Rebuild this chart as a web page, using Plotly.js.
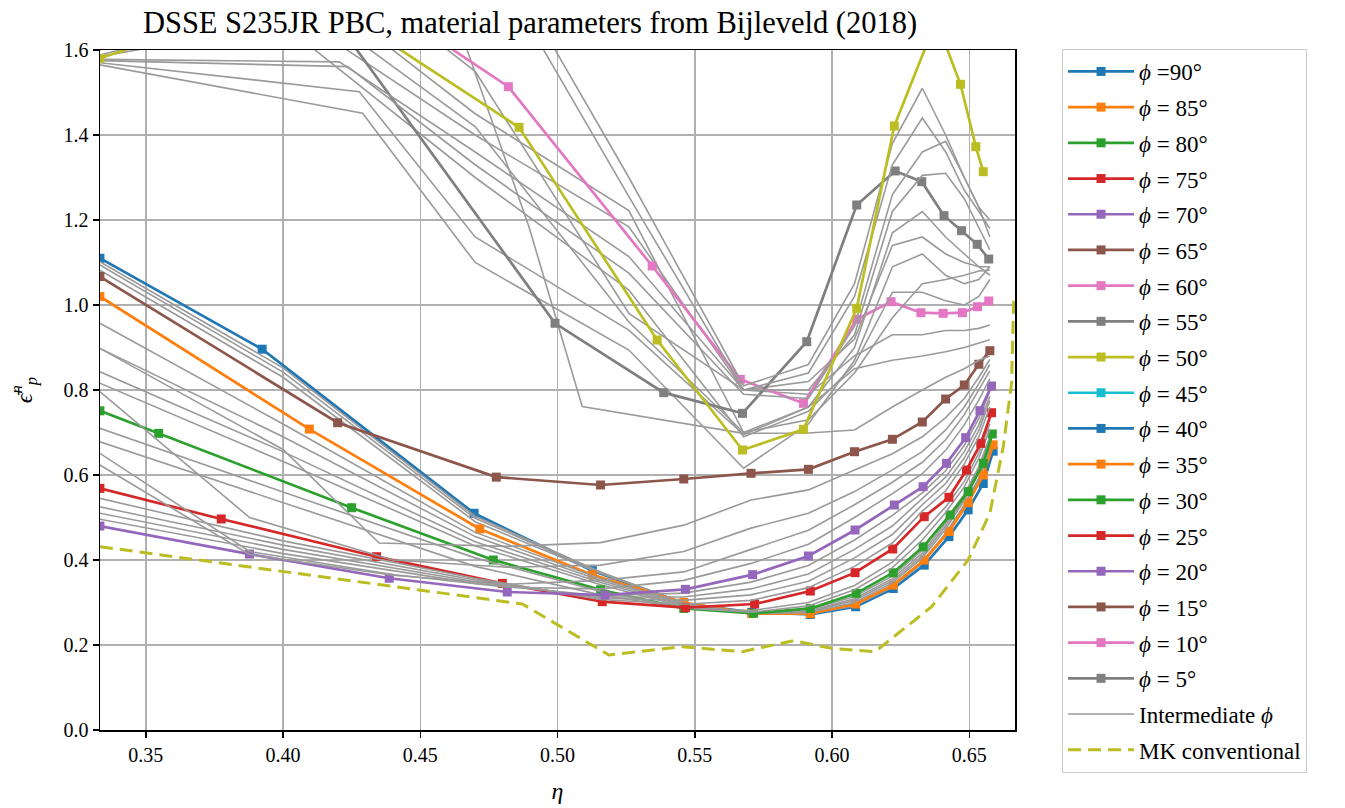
<!DOCTYPE html>
<html><head><meta charset="utf-8">
<script src="https://cdn.plot.ly/plotly-3.0.1.min.js"></script>
<style>body{margin:0;background:#fff}</style>
</head><body>
<div id="chart" style="width:1345px;height:808px"></div>
<script>
// ---------- named phi curves ----------
const phi90_x = [0.3333, 0.3924, 0.4696, 0.5127, 0.5460, 0.5708, 0.5921, 0.6086, 0.6223, 0.6336, 0.6426, 0.6496, 0.6551, 0.6587];
const phi90_y = [1.110, 0.896, 0.510, 0.375, 0.298, 0.277, 0.272, 0.290, 0.333, 0.388, 0.455, 0.518, 0.580, 0.656];
const phi85_x = [0.3333, 0.4096, 0.4717, 0.5127, 0.5460, 0.5708, 0.5921, 0.6086, 0.6223, 0.6336, 0.6426, 0.6496, 0.6551, 0.6587];
const phi85_y = [1.020, 0.708, 0.473, 0.365, 0.300, 0.274, 0.274, 0.2965, 0.341, 0.400, 0.467, 0.535, 0.600, 0.671];
const phi80_x = [0.3333, 0.3547, 0.4250, 0.4766, 0.5157, 0.5460, 0.5714, 0.5921, 0.6088, 0.6223, 0.6332, 0.6430, 0.6496, 0.6551, 0.6584];
const phi80_y = [0.751, 0.698, 0.523, 0.400, 0.330, 0.286, 0.2745, 0.286, 0.3216, 0.370, 0.431, 0.506, 0.561, 0.6275, 0.6965];
const phi75_x = [0.3333, 0.3775, 0.4341, 0.4799, 0.5163, 0.5466, 0.5718, 0.5921, 0.6084, 0.6221, 0.6336, 0.6426, 0.6490, 0.6542, 0.6581];
const phi75_y = [0.5686, 0.4965, 0.4078, 0.345, 0.302, 0.2878, 0.2965, 0.327, 0.3702, 0.4259, 0.502, 0.5475, 0.6118, 0.6745, 0.7466];
const phi70_x = [0.3333, 0.3878, 0.4387, 0.4817, 0.5173, 0.5466, 0.5711, 0.5914, 0.6084, 0.6227, 0.6332, 0.6417, 0.6487, 0.6539, 0.6581];
const phi70_y = [0.480, 0.414, 0.357, 0.3247, 0.3176, 0.331, 0.3655, 0.4094, 0.4706, 0.5294, 0.5725, 0.6275, 0.6878, 0.7513, 0.8094];
const phi65_x = [0.3333, 0.4199, 0.4777, 0.5157, 0.5460, 0.5705, 0.5914, 0.6082, 0.6220, 0.6329, 0.6414, 0.6482, 0.6535, 0.6575];
const phi65_y = [1.067, 0.723, 0.595, 0.5765, 0.5906, 0.604, 0.6134, 0.6548, 0.684, 0.7247, 0.7788, 0.8118, 0.8605, 0.8925];
const phi60_x = [0.3333, 0.4300, 0.4821, 0.5345, 0.5666, 0.5896, 0.6090, 0.6215, 0.6324, 0.6405, 0.6475, 0.6530, 0.6571];
const phi60_y = [2.10, 1.738, 1.5137, 1.0918, 0.8251, 0.7686, 0.9663, 1.0078, 0.9819, 0.9804, 0.9819, 0.996, 1.0094];
const phi55_x = [0.3333, 0.4000, 0.4991, 0.5387, 0.5674, 0.5908, 0.6090, 0.6230, 0.6327, 0.6408, 0.6472, 0.6529, 0.6571];
const phi55_y = [2.00, 1.84, 0.957, 0.7937, 0.7451, 0.9137, 1.2353, 1.3153, 1.2902, 1.2102, 1.1749, 1.1428, 1.1082];
const phi50_x = [0.3333, 0.4090, 0.4860, 0.5363, 0.5674, 0.5896, 0.6090, 0.6227, 0.6380, 0.6468, 0.6524, 0.6551];
const phi50_y = [1.5804, 1.743, 1.418, 0.9176, 0.6588, 0.7075, 0.9922, 1.4212, 1.67, 1.5193, 1.3725, 1.3137];
// phi = 45 ... 5 lie outside the plotted window (no visible points)
const phi_off_x = [null];
const phi_off_y = [null];

// ---------- intermediate phi curves ----------
const gxLow = [0.3333, 0.40, 0.47, 0.5157, 0.5460, 0.5705, 0.5914, 0.6082, 0.6220, 0.6329, 0.6414, 0.6482, 0.6535, 0.6575];
const gA1 = [1.102, 0.852, 0.503, 0.372, 0.298, 0.276, 0.273, 0.292, 0.336, 0.392, 0.459, 0.524, 0.586, 0.660];
const gA2 = [1.094, 0.842, 0.498, 0.370, 0.299, 0.275, 0.274, 0.294, 0.337, 0.394, 0.461, 0.527, 0.590, 0.663];
const gA3 = [1.082, 0.830, 0.490, 0.368, 0.300, 0.274, 0.274, 0.295, 0.339, 0.396, 0.463, 0.530, 0.593, 0.666];
const gB1 = [0.957, 0.720, 0.465, 0.356, 0.298, 0.274, 0.276, 0.300, 0.346, 0.405, 0.473, 0.540, 0.605, 0.676];
const gB2 = [0.898, 0.690, 0.455, 0.352, 0.296, 0.274, 0.278, 0.305, 0.351, 0.410, 0.480, 0.545, 0.610, 0.680];
const gB3 = [0.843, 0.655, 0.443, 0.347, 0.293, 0.274, 0.280, 0.309, 0.356, 0.416, 0.487, 0.550, 0.615, 0.685];
const gB4 = [0.816, 0.632, 0.433, 0.342, 0.290, 0.274, 0.283, 0.314, 0.362, 0.423, 0.495, 0.555, 0.620, 0.690];
const gC1 = [0.710, 0.560, 0.405, 0.326, 0.287, 0.277, 0.292, 0.330, 0.382, 0.447, 0.512, 0.572, 0.640, 0.708];
const gC2 = [0.678, 0.535, 0.385, 0.318, 0.287, 0.281, 0.300, 0.340, 0.395, 0.465, 0.525, 0.585, 0.652, 0.720];
const gD1 = [0.545, 0.445, 0.357, 0.307, 0.296, 0.305, 0.335, 0.385, 0.440, 0.515, 0.563, 0.626, 0.690, 0.760];
const gD2 = [0.525, 0.435, 0.353, 0.310, 0.305, 0.318, 0.350, 0.405, 0.460, 0.530, 0.580, 0.640, 0.705, 0.775];
const gD3 = [0.510, 0.425, 0.349, 0.313, 0.313, 0.332, 0.367, 0.425, 0.480, 0.545, 0.595, 0.655, 0.718, 0.785];
const gD4 = [0.496, 0.415, 0.345, 0.316, 0.322, 0.348, 0.387, 0.447, 0.505, 0.558, 0.610, 0.670, 0.733, 0.797];
const gxE = [0.3333, 0.3878, 0.44, 0.4817, 0.5157, 0.5460, 0.5705, 0.5914, 0.6082, 0.6220, 0.6329, 0.6414, 0.6482, 0.6535, 0.6575];
const gE1 = [0.651, 0.420, 0.366, 0.336, 0.332, 0.352, 0.392, 0.437, 0.500, 0.556, 0.603, 0.658, 0.718, 0.777, 0.826];
const gE2 = [0.6235, 0.413, 0.364, 0.343, 0.352, 0.372, 0.425, 0.470, 0.530, 0.583, 0.630, 0.683, 0.742, 0.800, 0.845];
const gE3 = [0.796, 0.500, 0.400, 0.383, 0.388, 0.420, 0.475, 0.510, 0.561, 0.612, 0.655, 0.706, 0.760, 0.815, 0.860];
const gxE4 = [0.3333, 0.40, 0.435, 0.4817, 0.5157, 0.5460, 0.5705, 0.5914, 0.6082, 0.6220, 0.6329, 0.6414, 0.6482, 0.6535, 0.6575];
const gE4 = [0.898, 0.660, 0.440, 0.432, 0.441, 0.482, 0.541, 0.565, 0.612, 0.650, 0.690, 0.735, 0.780, 0.830, 0.872];
const gxT1 = [0.3333, 0.44, 0.4896, 0.509, 0.5678, 0.5914, 0.6082, 0.6220, 0.6329, 0.6414, 0.6482, 0.6535, 0.6575];
const gT1 = [1.70, 2.10, 1.184, 0.761, 0.698, 0.699, 0.706, 0.760, 0.800, 0.830, 0.850, 0.870, 0.880];
const gxU = [0.3333, 0.40, 0.47, 0.526, 0.5678, 0.5914, 0.6082, 0.6220, 0.6329, 0.6414, 0.6482, 0.6535, 0.6575];
const gU5 = [1.585, 1.66, 1.30, 1.035, 0.69, 0.75, 0.86, 1.03, 1.03, 1.01, 1.00, 1.02, 1.06];
const gU6 = [1.588, 1.70, 1.40, 1.184, 0.80, 0.79, 0.88, 0.93, 0.93, 0.94, 0.94, 0.945, 0.953];
const gU7 = [1.62, 1.80, 1.45, 1.222, 0.70, 0.76, 0.85, 0.87, 0.88, 0.89, 0.90, 0.91, 0.918];
const gU13 = [1.60, 1.75, 1.42, 0.96, 0.70, 0.73, 0.84, 0.97, 1.05, 1.06, 1.07, 1.08, 1.082];
const gU14 = [1.63, 1.90, 1.55, 0.98, 0.80, 0.82, 0.92, 1.14, 1.16, 1.12, 1.10, 1.09, 1.09];
const gxU1 = [0.3333, 0.4205, 0.47, 0.526, 0.5678, 0.5914, 0.6082, 0.6220, 0.6329, 0.6414, 0.6482, 0.6535, 0.6575];
const gU1 = [1.578, 1.572, 1.36, 1.114, 0.80, 0.80, 0.93, 1.22, 1.305, 1.31, 1.25, 1.18, 1.13];
const gxU2 = [0.3333, 0.4236, 0.47, 0.526, 0.5678, 0.5914, 0.6082, 0.6220, 0.6329, 0.6414, 0.6482, 0.6535, 0.6575];
const gU2 = [1.575, 1.561, 1.33, 1.075, 0.79, 0.78, 0.95, 1.26, 1.36, 1.385, 1.30, 1.23, 1.16];
const gxU3 = [0.3333, 0.4278, 0.47, 0.526, 0.5678, 0.5914, 0.6082, 0.6220, 0.6329, 0.6414, 0.6482, 0.6535, 0.6575];
const gU3 = [1.570, 1.502, 1.16, 0.941, 0.695, 0.76, 0.90, 1.17, 1.22, 1.16, 1.12, 1.09, 1.07];
const gxU4 = [0.3333, 0.4290, 0.47, 0.526, 0.5678, 0.5914, 0.6082, 0.6220, 0.6329, 0.6414, 0.6482, 0.6535, 0.6575];
const gU4 = [1.565, 1.451, 1.10, 0.894, 0.616, 0.72, 0.87, 1.09, 1.12, 1.07, 1.05, 1.06, 1.09];
const gxU11 = [0.3333, 0.45, 0.526, 0.5678, 0.5914, 0.6082, 0.6220, 0.6329, 0.6414, 0.6482, 0.6535, 0.6575];
const gU11 = [1.75, 2.10, 1.255, 0.80, 0.84, 1.02, 1.33, 1.44, 1.36, 1.27, 1.22, 1.18];
const gU12 = [1.78, 2.15, 1.30, 0.81, 0.86, 1.05, 1.38, 1.51, 1.40, 1.30, 1.23, 1.20];

// ---------- MK conventional ----------
const mk_x = [0.3333, 0.40, 0.45, 0.4872, 0.5187, 0.5454, 0.5672, 0.5860, 0.5999, 0.6157, 0.6363, 0.6496, 0.6575, 0.6624, 0.6654, 0.6662];
const mk_y = [0.4314, 0.3725, 0.3278, 0.2965, 0.1765, 0.196, 0.1843, 0.2102, 0.1922, 0.1843, 0.2902, 0.400, 0.510, 0.6667, 0.8157, 1.010];

// ---------- labels / ticks ----------
const phiLabels = ['<i>ϕ</i> =90°','<i>ϕ</i> = 85°','<i>ϕ</i> = 80°','<i>ϕ</i> = 75°','<i>ϕ</i> = 70°','<i>ϕ</i> = 65°','<i>ϕ</i> = 60°','<i>ϕ</i> = 55°','<i>ϕ</i> = 50°','<i>ϕ</i> = 45°','<i>ϕ</i> = 40°','<i>ϕ</i> = 35°','<i>ϕ</i> = 30°','<i>ϕ</i> = 25°','<i>ϕ</i> = 20°','<i>ϕ</i> = 15°','<i>ϕ</i> = 10°','<i>ϕ</i> = 5°'];
const tab10 = ['#1f77b4','#ff7f0e','#2ca02c','#d62728','#9467bd','#8c564b','#e377c2','#7f7f7f','#bcbd22','#17becf'];
const xTicks = [0.35, 0.40, 0.45, 0.50, 0.55, 0.60, 0.65];
const yTicks = [0.0, 0.2, 0.4, 0.6, 0.8, 1.0, 1.2, 1.4, 1.6];

const GREY = '#9a9a9a';
function named(i, x, y) {
  return {type:'scatter', mode:'lines+markers', x:x, y:y, name:phiLabels[i],
    line:{color:tab10[i % 10], width:2.7}, marker:{symbol:'square', size:9, color:tab10[i % 10]},
    legendrank:i+1, legendgroup:'g'+i, hoverinfo:'skip', cliponaxis:true};
}
let greyShown = false;
function grey(x, y) {
  const t = {type:'scatter', mode:'lines', x:x, y:y, name:'Intermediate <i>ϕ</i>',
    line:{color:GREY, width:1.6}, legendrank:19, legendgroup:'gI',
    showlegend:!greyShown, hoverinfo:'skip'};
  greyShown = true;
  return t;
}
const traces = [];
traces.push(named(0, phi90_x, phi90_y));
[gA1, gA2, gA3].forEach(g => traces.push(grey(gxLow, g)));
traces.push(named(1, phi85_x, phi85_y));
[gB1, gB2, gB3, gB4].forEach(g => traces.push(grey(gxLow, g)));
traces.push(named(2, phi80_x, phi80_y));
[gC1, gC2].forEach(g => traces.push(grey(gxLow, g)));
traces.push(named(3, phi75_x, phi75_y));
[gD1, gD2, gD3, gD4].forEach(g => traces.push(grey(gxLow, g)));
traces.push(named(4, phi70_x, phi70_y));
[gE1, gE2, gE3].forEach(g => traces.push(grey(gxE, g)));
traces.push(grey(gxE4, gE4));
traces.push(named(5, phi65_x, phi65_y));
traces.push(grey(gxT1, gT1));
[gU6, gU7].forEach(g => traces.push(grey(gxU, g)));
traces.push(named(6, phi60_x, phi60_y));
traces.push(grey(gxU3, gU3));
traces.push(grey(gxU4, gU4));
[gU5, gU13, gU14].forEach(g => traces.push(grey(gxU, g)));
traces.push(named(7, phi55_x, phi55_y));
traces.push(grey(gxU1, gU1));
traces.push(grey(gxU2, gU2));
traces.push(grey(gxU11, gU11));
traces.push(grey(gxU11, gU12));
traces.push(named(8, phi50_x, phi50_y));
for (let i = 9; i < 18; i++) traces.push(named(i, phi_off_x, phi_off_y));
traces.push({type:'scatter', mode:'lines', x:mk_x, y:mk_y, name:'MK conventional',
  line:{color:'#bcbd22', width:3, dash:'13px,7px'}, legendrank:20, legendgroup:'gMK', hoverinfo:'skip'});

const FONT = 'Liberation Serif, DejaVu Serif, serif';
const layout = {
  width:1345, height:808,
  margin:{l:100, r:330, t:50, b:78},
  paper_bgcolor:'#ffffff', plot_bgcolor:'#ffffff',
  font:{family:FONT, color:'#000', size:20},
  title:{text:'DSSE S235JR PBC, material parameters from Bijleveld (2018)', font:{family:FONT, size:30.5, color:'#000'},
    x:0.47, xref:'paper', xanchor:'center', y:0.972, yref:'container', yanchor:'middle'},
  xaxis:{range:[1/3, 2/3], tickvals:xTicks, ticktext:xTicks.map(v=>v.toFixed(2)),
    showgrid:true, gridcolor:'#b0b0b0', gridwidth:1.5, zeroline:false,
    showline:true, linecolor:'#000', linewidth:1.5, mirror:true,
    ticks:'outside', ticklen:6, tickwidth:1.5, tickcolor:'#000',
    tickfont:{family:FONT, size:20},
    title:{text:'<i>η</i>', font:{family:FONT, size:24}, standoff:17}},
  yaxis:{range:[0, 1.6], tickvals:yTicks, ticktext:yTicks.map(v=>v.toFixed(1)),
    showgrid:true, gridcolor:'#b0b0b0', gridwidth:1.5, zeroline:false,
    showline:true, linecolor:'#000', linewidth:1.5, mirror:true,
    ticks:'outside', ticklen:6, tickwidth:1.5, tickcolor:'#000',
    tickfont:{family:FONT, size:20},
    title:{text:'<i>ϵ̄</i><sup><i>n</i></sup><sub><i>p</i></sub>', font:{family:FONT, size:24}, standoff:24}},
  legend:{x:1.0514, y:1.0015, xanchor:'left', yanchor:'top', xref:'paper', yref:'paper',
    bgcolor:'#ffffff', bordercolor:'#cccccc', borderwidth:1, maxheight:760,
    entrywidth:245, entrywidthmode:'pixels',
    font:{family:FONT, size:23, color:'#000'}, tracegroupgap:2.8, itemwidth:66},
  showlegend:true
};
Plotly.newPlot('chart', traces, layout, {displayModeBar:false, staticPlot:true});
</script>
</body></html>
